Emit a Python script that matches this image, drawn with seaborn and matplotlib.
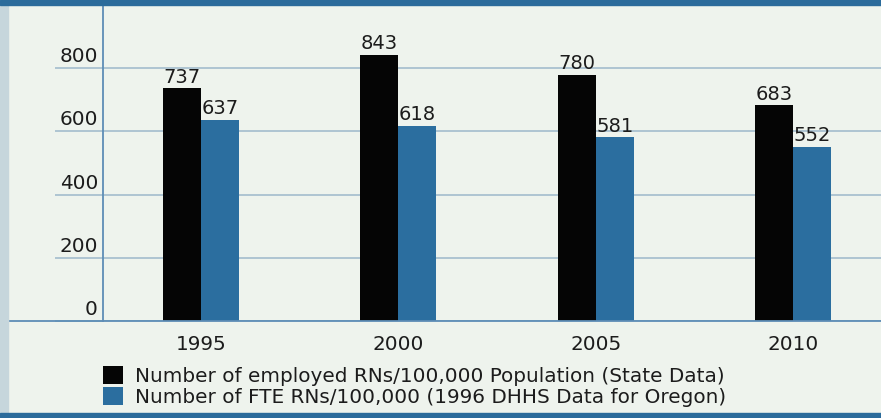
import matplotlib
matplotlib.use("Agg")
import matplotlib.pyplot as plt
from matplotlib.patches import Rectangle
from matplotlib.transforms import ScaledTranslation
import seaborn as sns
import pandas as pd

# Chart data
years = ["1995", "2000", "2005", "2010"]
series_names = [
    "Number of employed RNs/100,000 Population (State Data)",
    "Number of FTE RNs/100,000 (1996 DHHS Data for Oregon)",
]
employed_state = [737, 843, 780, 683]
fte_dhhs = [637, 618, 581, 552]
y_ticks = [0, 200, 400, 600, 800]

df = pd.DataFrame({
    "year": years * 2,
    "series": [series_names[0]] * len(years) + [series_names[1]] * len(years),
    "value": employed_state + fte_dhhs,
})

W, H = 881, 418
BG = "#eef3ed"
BAND = "#2b6b9b"
STRIP = "#c6d6dc"
GRID = "#a3bccd"
SPINE = "#5d8db6"
TEXT = "#1c1c1c"
FS = 14.4
FS_BAR = 14.0

sns.set_theme(style="white")
plt.rcParams["font.family"] = ["DejaVu Sans"]

fig = plt.figure(figsize=(W / 100, H / 100), dpi=100, facecolor=BG)

# Page decorations: left strip, top and bottom bands
fig.patches.append(Rectangle((0, 0), 8 / W, 1, transform=fig.transFigure,
                             color=STRIP, zorder=0))
fig.patches.append(Rectangle((0, 1 - 5 / H), 1, 5 / H, transform=fig.transFigure,
                             color=BAND, zorder=1))
fig.patches.append(Rectangle((0, 0), 1, 5 / H, transform=fig.transFigure,
                             color=BAND, zorder=1))

ax_left = 103 / W
ax_bottom = (H - 321) / H
ax_top = 1 - 5 / H
ax = fig.add_axes([ax_left, ax_bottom, 1 - ax_left, ax_top - ax_bottom])
ax.set_facecolor(BG)

sns.barplot(data=df, x="year", y="value", hue="series",
            palette=["#050505", "#2b6e9f"], width=0.385, saturation=1,
            linewidth=0, edgecolor="none", ax=ax, zorder=3)

for cont in ax.containers:
    ax.bar_label(cont, padding=1, fontsize=FS_BAR, color=TEXT)

ax.set_ylim(0, 1000)
ax.set_xlim(-0.497, 3.446)
ax.set_yticks(y_ticks)
ax.set_yticklabels([str(v) for v in y_ticks])
ax.set_xlabel("")
ax.set_ylabel("")

ax.grid(axis="y", color=GRID, linewidth=1.2, zorder=0)
ax.grid(axis="x", visible=False)

for side in ["top", "right", "bottom"]:
    ax.spines[side].set_visible(False)
ax.spines["left"].set_color(SPINE)
ax.spines["left"].set_linewidth(1.3)

# baseline running further left than the value axis
ax.axhline(0, xmin=-95 / 778, xmax=1, color=SPINE, linewidth=1.3,
           clip_on=False, zorder=4)

ax.tick_params(axis="y", length=34.6, width=1.2, color=GRID, pad=-31,
               labelsize=FS, labelcolor=TEXT, left=True)
lift = ScaledTranslation(0, 2 / 100, fig.dpi_scale_trans)
for lab in ax.get_yticklabels():
    lab.set_verticalalignment("bottom")
    lab.set_transform(lab.get_transform() + lift)
ax.tick_params(axis="x", length=0, pad=10, labelsize=FS, labelcolor=TEXT)

handles, labels = ax.get_legend_handles_labels()
ax.get_legend().remove()
fig.legend(handles, labels, loc="upper left",
           bbox_to_anchor=(103 / W, 1 - 366 / H), bbox_transform=fig.transFigure,
           frameon=False, fontsize=FS, labelcolor=TEXT,
           handlelength=1.0, handleheight=1.0, handletextpad=0.58,
           labelspacing=0.05, borderpad=0, borderaxespad=0)

fig.savefig("out.png", dpi=100, facecolor=BG)
